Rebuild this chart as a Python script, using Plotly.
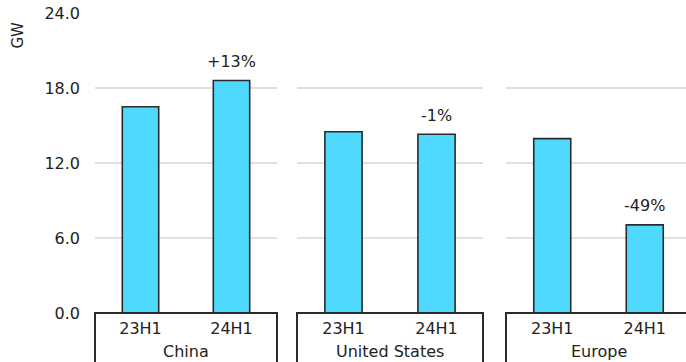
import plotly.graph_objects as go

regions = ["China", "United States", "Europe"]
periods = ["23H1", "24H1"]
values = {
    "China": [16.5, 18.6],
    "United States": [14.5, 14.3],
    "Europe": [13.95, 7.05],
}
changes = {"China": "+13%", "United States": "-1%", "Europe": "-49%"}
y_ticks = [0, 6, 12, 18, 24]

W, H = 686, 362
ML, MR, MT, MB = 95, 0, 13, 49
PW = W - ML - MR

# panel pixel extents (left, right) within the figure
panels_px = [(95, 277), (297, 483), (506, 686)]
cat_px = [91, 93, 92.5]

FONT = "DejaVu Sans"
BAR = "#4fd9ff"
EDGE = "#2b2b2b"
GRID = "#e0e0e0"

fig = go.Figure()
for i, reg in enumerate(regions):
    n = "" if i == 0 else str(i + 1)
    fig.add_trace(go.Bar(
        x=periods, y=values[reg], width=0.4,
        marker=dict(color=BAR, line=dict(color=EDGE, width=1.6)),
        xaxis="x" + n, yaxis="y" + n, showlegend=False,
        hoverinfo="x+y",
    ))
    l, r = panels_px[i]
    d0 = (l - ML) / PW
    d1 = (r - ML) / PW
    span = (r - l) / cat_px[i]
    fig.update_layout(**{
        "xaxis" + n: dict(
            domain=[d0, min(d1, 1)], anchor="y" + n,
            range=[-0.5, -0.5 + span], type="category",
            showgrid=False, showline=False, zeroline=False, ticks="",
            tickfont=dict(family=FONT, size=16, color="#222"),
            ticklabelstandoff=4,
        ),
        "yaxis" + n: dict(
            anchor="x" + n, range=[0, 24], tickvals=y_ticks,
            tickformat=".1f", showgrid=True, gridcolor=GRID, gridwidth=2,
            zeroline=False, showline=False, ticks="",
            showticklabels=(i == 0),
            tickfont=dict(family=FONT, size=16, color="#222"),
            ticklabelstandoff=14,
            **({} if i == 0 else {"matches": "y"}),
        ),
    })
    # bracket box below each panel
    xr = "x" + n + " domain"
    yr = "y" + n + " domain"
    if i < 2:
        path = "M 0,-0.6 L 0,0 L 1,0 L 1,-0.6"
    else:
        path = "M 0,-0.6 L 0,0 L 1.02,0"
    fig.add_shape(type="path", path=path, xref=xr, yref=yr,
                  line=dict(color=EDGE, width=2), layer="above")
    fig.add_annotation(text=reg, xref=xr, yref=yr,
                       x=0.5 if i < 2 else 0.5 * (cat_px[i] * 2) / (r - l),
                       y=0, yshift=-38,
                       showarrow=False, yanchor="middle",
                       font=dict(family=FONT, size=16, color="#222"))
    # change label above the 24H1 bar
    fig.add_annotation(text=changes[reg], x=periods[1], y=values[reg][1],
                       xref="x" + n, yref="y" + n, yshift=19,
                       showarrow=False, yanchor="middle",
                       font=dict(family=FONT, size=16, color="#222"))

fig.add_annotation(text="GW", xref="paper", yref="paper", x=0, y=1,
                   xshift=-89, yshift=-7, textangle=-90, showarrow=False,
                   font=dict(family=FONT, size=15, color="#222"))

fig.update_layout(
    width=W, height=H, margin=dict(l=ML, r=MR, t=MT, b=MB, autoexpand=False),
    plot_bgcolor="white", paper_bgcolor="white",
    font=dict(family=FONT, color="#222"),
)
fig.write_html(
    "out.html",
    config={"displayModeBar": False},
    post_script="document.body.style.margin='0';document.body.style.overflow='hidden';",
)
